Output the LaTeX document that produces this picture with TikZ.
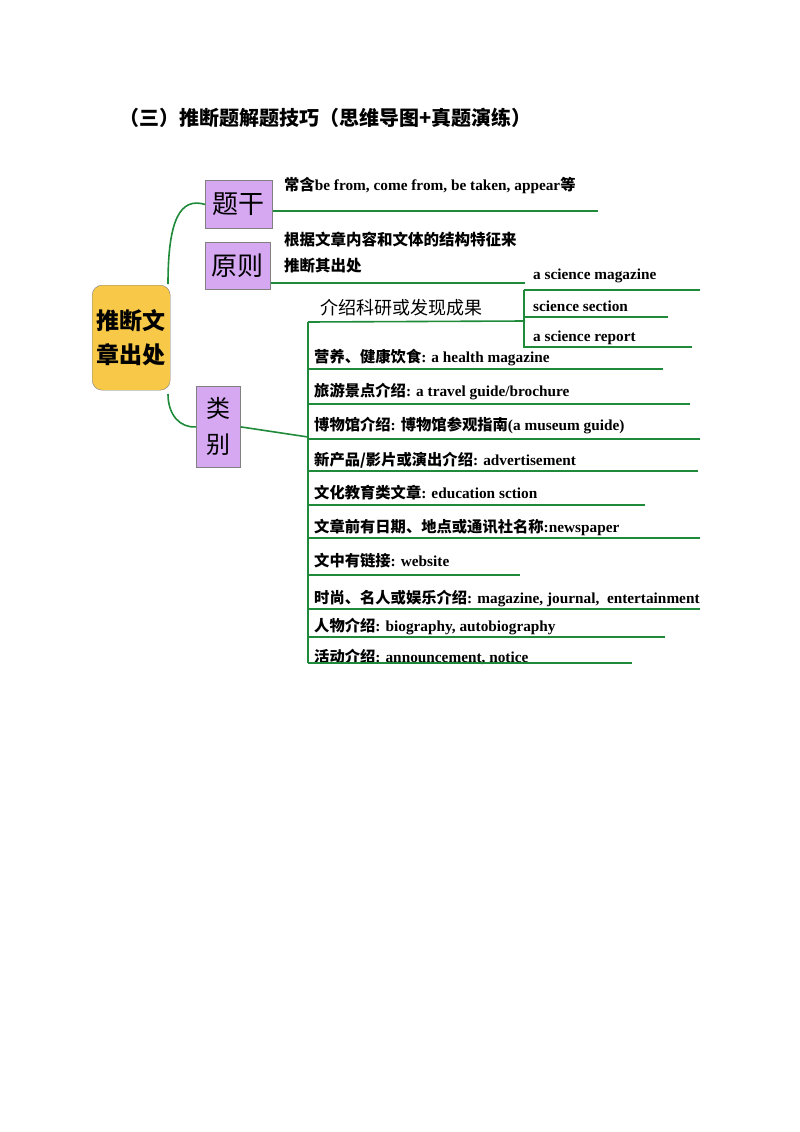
\documentclass[tikz,border=0pt]{standalone}
\usepackage{fontspec}
\setmainfont{Liberation Serif}
\newfontfamily\cjk{Noto Sans CJK SC}
\newcommand\zh[1]{{\cjk #1}}
\definecolor{gline}{HTML}{1E8A3A}
\definecolor{purp}{HTML}{D6A8F2}
\definecolor{yel}{HTML}{F8C848}
\tikzset{
  gl/.style={draw=gline,line width=1.6pt},
  pbox/.style={draw=gray,fill=purp,line width=0.8pt,anchor=north west,inner sep=0pt,font=\cjk\fontsize{26}{30}\selectfont},
  item/.style={anchor=west,inner sep=0pt,font=\bfseries\fontsize{15.3}{17}\selectfont},
}
\begin{document}
\begin{tikzpicture}[x=1pt,y=-1pt]
\useasboundingbox (0,0) rectangle (800,1132);
\node[anchor=west,font=\cjk\bfseries\fontsize{20}{22}\selectfont] (title) at (116,118) {（三）推断题解题技巧（思维导图+真题演练）};
\node[draw=gray,fill=yel,rounded corners=10pt,minimum width=78pt,minimum height=105pt,anchor=north west,inner sep=0pt,align=center,font=\cjk\bfseries\fontsize{23}{34}\selectfont] (c) at (92,285) {推断文\\章出处};
\node[pbox,minimum width=67pt,minimum height=48pt] (tg) at (205,180) {题干};
\node[pbox,minimum width=65pt,minimum height=47pt] (yz) at (205,242) {原则};
\node[pbox,minimum width=44pt,minimum height=81pt,align=center,font=\cjk\fontsize{24}{36}\selectfont] (lb) at (196,386) {类\\别};
\draw[gl] (168,284) .. controls (168,220) and (180,197) .. (tg.west);
\draw[gl] (168,394) .. controls (168,415) and (180,428) .. (lb.west);
% 题干
\coordinate (t1) at (598,211);
\draw[gl] (tg.east|-t1) -- (t1);
\node[item] (tx1) at (284,186) {\zh{常含}be from, come from, be taken, appear\zh{等}};
% 原则
\coordinate (y1) at (525,283);
\draw[gl] (yz.east|-y1) -- (y1);
\node[item,align=left,font=\cjk\bfseries\fontsize{15.5}{26}\selectfont] (tx2) at (284,253) {根据文章内容和文体的结构特征来\\推断其出处};
% 类别
\coordinate (v0) at (308,322);
\coordinate (v1) at (308,663);
\draw[gl] (lb.east) -- (308,437);
\draw[gl] (v0) -- (v1);
\coordinate (k1) at (525,321);
\draw[gl] (v0) -- (k1);
\node[anchor=west,inner sep=0pt,font=\cjk\fontsize{18}{20}\selectfont] (kx) at (320,308) {介绍科研或发现成果};
\draw[gl] (524,290) -- (524,348);
\coordinate (s1) at (700,290); \coordinate (s2) at (668,317); \coordinate (s3) at (692,347);
\draw[gl] (524,290) -- (s1);
\draw[gl] (524,317) -- (s2);
\draw[gl] (524,347) -- (s3);
\node[item] (sa) at (533,276) {a science magazine};
\node[item] (sb) at (533,306) {science section};
\node[item] (sc) at (533,338) {a science report};
\foreach \ty/\ly/\lx/\txt [count=\i] in {
 358/369/663/{\zh{营养、健康饮食}: a health magazine},
 392/404/690/{\zh{旅游景点介绍}: a travel guide/brochure},
 426/439/700/{\zh{博物馆介绍}: \zh{博物馆参观指南}(a museum guide)},
 460/471/698/{\zh{新产品/影片或演出介绍}: advertisement},
 493/505/645/{\zh{文化教育类文章}: education sction},
 527/538/700/{\zh{文章前有日期、地点或通讯社名称}:newspaper},
 561/575/520/{\zh{文中有链接}: website},
 599/609/700/{\zh{时尚、名人或娱乐介绍}: magazine, journal,\ \ entertainment},
 627/637/665/{\zh{人物介绍}: biography, autobiography},
 657/663/632/{\zh{活动介绍}: announcement, notice}} {
  \node[item] (it\i) at (314,\ty) {\txt};
  \coordinate (le\i) at (\lx,\ly);
  \draw[gl] (v0|-le\i) -- (le\i);
}
\end{tikzpicture}
\end{document}
